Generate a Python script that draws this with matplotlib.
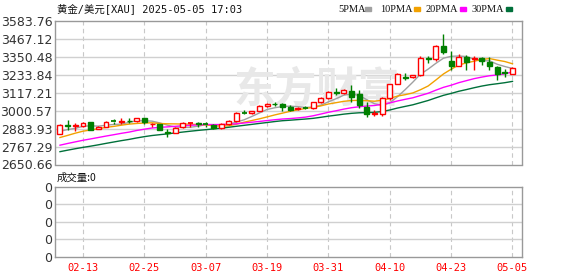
import numpy as np
import pandas as pd
import matplotlib
matplotlib.use("Agg")
import matplotlib.pyplot as plt
from matplotlib.patches import Rectangle

plt.rcParams['font.family'] = ['DejaVu Sans', 'Noto Sans CJK SC']

# trading days shown on the chart
dates = ['02-10', '02-11', '02-12', '02-13', '02-14', '02-17', '02-18', '02-19', '02-20', '02-21',
         '02-24', '02-25', '02-26', '02-27', '02-28', '03-03', '03-04', '03-05', '03-06', '03-07',
         '03-10', '03-11', '03-12', '03-13', '03-14', '03-17', '03-18', '03-19', '03-20', '03-21',
         '03-24', '03-25', '03-26', '03-27', '03-28', '03-31', '04-01', '04-02', '04-03', '04-04',
         '04-07', '04-08', '04-09', '04-10', '04-11', '04-14', '04-15', '04-16', '04-17', '04-21',
         '04-22', '04-23', '04-24', '04-25', '04-28', '04-29', '04-30', '05-01', '05-02', '05-05']

opens = [2851, 2906, 2900, 2899, 2925, 2881, 2897, 2932, 2929, 2935,
         2936, 2950, 2911, 2912, 2864, 2858, 2893, 2918, 2920, 2912,
         2908, 2889, 2916, 2933, 2987, 2984, 3001, 3032, 3045, 3045,
         3024, 3011, 3021, 3020, 3055, 3086, 3124, 3113, 3130, 3110,
         3024, 2982, 2980, 3082, 3177, 3220, 3222, 3232, 3342, 3338,
         3423, 3325, 3292, 3350, 3336, 3344, 3317, 3286, 3250, 3242]
highs = [2911, 2940, 2920, 2928, 2930, 2900, 2935, 2946, 2955, 2950,
         2956, 2956, 2920, 2915, 2880, 2895, 2928, 2930, 2927, 2930,
         2912, 2921, 2940, 2990, 3004, 3001, 3038, 3050, 3057, 3048,
         3036, 3027, 3032, 3059, 3087, 3128, 3149, 3139, 3168, 3136,
         3055, 3003, 3090, 3176, 3245, 3243, 3232, 3357, 3358, 3430,
         3500, 3388, 3367, 3360, 3356, 3351, 3347, 3290, 3269, 3282]
lows = [2848, 2877, 2866, 2892, 2874, 2879, 2892, 2915, 2917, 2918,
        2930, 2912, 2892, 2873, 2832, 2855, 2888, 2893, 2896, 2897,
        2880, 2881, 2907, 2930, 2977, 2982, 2999, 3025, 3028, 2999,
        3000, 3005, 3011, 3014, 3052, 3076, 3100, 3106, 3054, 3015,
        2957, 2966, 2965, 3072, 3173, 3199, 3212, 3228, 3308, 3324,
        3368, 3262, 3288, 3268, 3268, 3297, 3264, 3203, 3222, 3238]
closes = [2907, 2900, 2905, 2922, 2878, 2895, 2930, 2929, 2935, 2931,
          2950, 2930, 2917, 2878, 2858, 2890, 2918, 2921, 2911, 2910,
          2890, 2915, 2932, 2985, 2984, 2998, 3030, 3045, 3041, 3025,
          3008, 3016, 3018, 3054, 3082, 3122, 3116, 3133, 3092, 3037,
          2982, 2986, 3080, 3172, 3236, 3212, 3230, 3340, 3336, 3423,
          3380, 3292, 3350, 3318, 3342, 3323, 3292, 3238, 3244, 3278]

# closes before the first visible day, needed for the moving averages
prev_closes = [2606, 2624, 2658, 2640, 2636, 2648, 2662, 2670, 2690, 2663,
               2677, 2697, 2715, 2702, 2708, 2745, 2755, 2754, 2770, 2740,
               2763, 2760, 2794, 2798, 2815, 2842, 2866, 2856, 2861]

price_ticks = [2650.66, 2767.29, 2883.93, 3000.57, 3117.21, 3233.84, 3350.48, 3467.12, 3583.76]
date_ticks = ['02-13', '02-25', '03-07', '03-19', '03-31', '04-10', '04-23', '05-05']

ma_names = ['5PMA', '10PMA', '20PMA', '30PMA']
ma_windows = [5, 10, 20, 30]
ma_colors = ['#a0a0a0', '#f2a100', '#ff00ff', '#00703a']

UP = '#ff0000'
DOWN = '#008000'
W, H = 578, 276


def fx(px):
    return px / W


def fy(py):
    return 1 - py / H


def main():
    n = len(closes)
    x = np.arange(n)
    all_close = pd.Series(prev_closes + closes)

    fig = plt.figure(figsize=(W / 100, H / 100), dpi=100)
    ax = fig.add_axes([fx(55), fy(164.5), fx(522 - 55), (164.5 - 21) / H])
    axv = fig.add_axes([fx(55), fy(257), fx(522 - 55), (257 - 186.5) / H])

    tick_idx = [dates.index(d) for d in date_ticks]
    for a in (ax, axv):
        a.set_xlim(-0.65, n + 0.24)
        for s in a.spines.values():
            s.set_color('#999999')
            s.set_linewidth(1)
        for t in tick_idx:
            a.axvline(t, color='#c8c8c8', lw=0.8, ls=(0, (4, 3)), zorder=0)
        a.tick_params(length=0)

    # price panel
    ax.set_ylim(price_ticks[0], price_ticks[-1])
    ax.set_yticks(price_ticks)
    ax.set_yticklabels([f"{v:.2f}" for v in price_ticks], fontsize=9, color='#333333')
    ax.tick_params(axis='y', pad=2)
    ax.set_xticks([])
    for v in price_ticks[1:-1]:
        ax.axhline(v, color='#d0d0d0', lw=1, zorder=0)

    # faint watermark
    ax.text(0.56, 0.52, '东方财富', transform=ax.transAxes, fontsize=30, color='#e8e8e8',
            fontweight='bold', ha='center', va='center', zorder=0.5,
            family=['Noto Sans CJK SC'])

    for name, win, col in zip(ma_names, ma_windows, ma_colors):
        ma = all_close.rolling(win).mean().iloc[len(prev_closes):].to_numpy()
        ax.plot(x, ma, color=col, lw=1, zorder=2)

    bw = 0.65
    for i in range(n):
        o, h, l, c = opens[i], highs[i], lows[i], closes[i]
        up = c >= o
        col = UP if up else DOWN
        top, bot = max(o, c), min(o, c)
        ax.vlines(i, top, h, color=col, lw=1, zorder=3)
        ax.vlines(i, l, bot, color=col, lw=1, zorder=3)
        if top - bot < 4:
            ax.hlines((top + bot) / 2, i - bw / 2, i + bw / 2, color=col, lw=1.3, zorder=3)
        else:
            ax.add_patch(Rectangle((i - bw / 2, bot), bw, top - bot,
                                   facecolor='white' if up else col,
                                   edgecolor=col, lw=1, zorder=4))

    # volume panel
    axv.set_ylim(0, 4)
    axv.set_yticks([0, 1, 2, 3, 4])
    axv.set_yticklabels(['0'] * 5, fontsize=9, color='#333333')
    axv.tick_params(axis='y', pad=2)
    for v in [1, 2, 3]:
        axv.axhline(v, color='#d0d0d0', lw=1, zorder=0)
    axv.set_xticks(tick_idx)
    axv.set_xticklabels(date_ticks, fontsize=7.5, color='#ff0000', family=['DejaVu Sans Mono'])
    axv.tick_params(axis='x', pad=4)

    # header texts
    fig.text(fx(57), fy(9), '黄金/美元[XAU] 2025-05-05 17:03', fontsize=7.5, va='center',
             color='#111111', family=['DejaVu Sans Mono', 'Noto Sans CJK SC'])
    fig.text(fx(57), fy(178), '成交量:0', fontsize=7.5, va='center',
             color='#111111', family=['Noto Sans CJK SC', 'DejaVu Sans Mono'])

    leg_x = [338, 380, 426, 472]
    for name, col, lx in zip(ma_names, ma_colors, leg_x):
        fig.text(fx(lx), fy(9), name, fontsize=7.5, va='center', color='#111111',
                 family=['Liberation Serif'])
        sx = lx + 6.5 * len(name) + 1
        fig.patches.append(Rectangle((fx(sx), fy(10.5)), fx(6), 3 / H, color=col,
                                     transform=fig.transFigure, figure=fig))

    fig.savefig('out.png', dpi=100)


if __name__ == "__main__":
    main()
